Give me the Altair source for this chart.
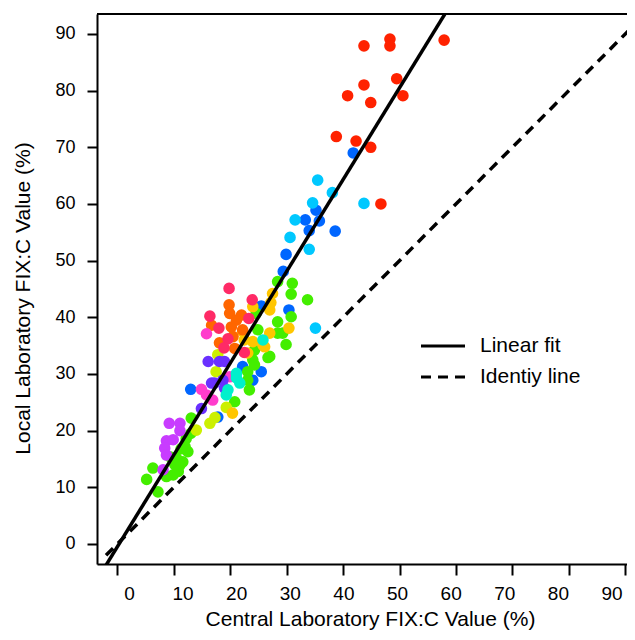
import altair as alt
import pandas as pd

# ---- data (Central %, Local %) per colour group ----
red_x = [57.9, 48.3, 48.3, 43.7, 49.5, 43.7, 50.6, 40.8, 44.9, 38.8, 42.3, 44.9, 46.7]
red_y = [88.9, 89.1, 87.9, 87.9, 82.1, 81.0, 79.1, 79.1, 77.9, 71.9, 71.1, 70.0, 60.0]

blue_x = [41.8, 35.2, 35.8, 33.3, 34.0, 38.6, 29.9, 29.4, 30.4, 25.5, 22.2, 25.5, 24.0, 13.0, 17.8]
blue_y = [69.0, 58.9, 57.0, 57.2, 55.3, 55.2, 51.1, 48.1, 41.3, 42.0, 31.3, 30.4, 28.9, 27.3, 22.4]

cyan_x = [35.5, 38.1, 43.7, 34.6, 31.5, 30.6, 34.0, 35.1]
cyan_y = [64.2, 62.0, 60.1, 60.2, 57.2, 54.1, 52.0, 38.1]

green_x = [28.4, 31.0, 30.8, 33.7, 30.8, 28.4, 28.4, 29.3, 24.6, 24.9, 29.9, 24.3, 26.7,
           24.0, 23.1, 24.3, 23.4, 23.1, 20.8, 27.0, 13.1, 12.2, 12.5, 11.6, 10.5, 9.3,
           6.3, 11.1, 9.9, 8.7, 10.8, 5.2, 7.2, 12.0, 13.0, 11.3, 10.2]
green_y = [46.3, 46.0, 44.1, 43.1, 40.1, 39.2, 37.2, 37.2, 40.7, 37.8, 35.2, 34.2, 32.9,
           32.5, 30.4, 31.6, 27.2, 28.9, 25.1, 33.1, 22.2, 18.6, 16.3, 14.5, 15.1, 15.4,
           13.4, 13.9, 12.2, 11.9, 12.8, 11.4, 9.2, 17.2, 19.5, 16.8, 14.0]

ygreen_x = [17.8, 17.5, 19.3, 16.4, 14.0, 17.3]
ygreen_y = [33.4, 30.4, 24.1, 21.3, 20.1, 22.3]

amber_x = [27.5, 27.2, 30.4, 27.0, 24.0, 27.0, 22.2, 24.0, 23.1, 25.8, 22.5, 26.1, 20.4]
amber_y = [44.2, 42.6, 38.1, 37.2, 41.9, 41.3, 37.5, 35.7, 33.7, 35.1, 36.0, 34.8, 23.1]

orange_x = [19.8, 19.9, 22.0, 21.1, 16.7, 20.2, 22.2, 20.5, 20.8, 18.1]
orange_y = [42.2, 40.7, 40.4, 39.5, 38.6, 38.3, 37.8, 36.6, 34.5, 35.5]

pinkred_x = [19.8, 23.9, 16.4, 23.3, 18.0, 19.6, 18.9, 22.5]
pinkred_y = [45.1, 43.1, 40.2, 39.8, 38.1, 36.2, 34.6, 33.8]

magenta_x = [15.8, 19.9, 14.9, 15.8, 16.9]
magenta_y = [37.1, 29.5, 27.3, 26.3, 25.4]

purple_x = [9.2, 11.1, 11.1, 8.7, 9.9, 8.4, 8.7, 8.1]
purple_y = [21.3, 21.3, 20.0, 18.2, 18.4, 16.9, 15.7, 13.1]

violet_x = [16.1, 18.1, 19.0, 17.2, 18.7, 19.0, 14.9, 16.7]
violet_y = [32.2, 32.2, 32.2, 28.4, 28.9, 27.5, 23.9, 28.4]

turq_x = [25.8, 21.1, 21.1, 21.7, 19.6, 19.3]
turq_y = [36.0, 29.3, 30.1, 28.4, 27.2, 26.3]

group_names = ["G1", "G2", "G3", "G4", "G5", "G6", "G7", "G8", "G9", "G10", "G11", "G12"]
group_colors = ["#ff2200", "#0066ff", "#00c8ff", "#44ee00", "#ccf000", "#ffc600",
                "#ff6600", "#ff2a66", "#ff3ccc", "#c83cff", "#6a30ff", "#00f0cc"]
group_data = [(red_x, red_y), (blue_x, blue_y), (cyan_x, cyan_y), (green_x, green_y),
              (ygreen_x, ygreen_y), (amber_x, amber_y), (orange_x, orange_y),
              (pinkred_x, pinkred_y), (magenta_x, magenta_y), (purple_x, purple_y),
              (violet_x, violet_y), (turq_x, turq_y)]

# linear fit
fit_slope = 1.62
fit_intercept = -0.5
fit_x = [-3.0, 60.0]
ident_x = [-2.0, 95.0]

legend_labels = ["Linear fit", "Identiy line"]

x_ticks = [0, 10, 20, 30, 40, 50, 60, 70, 80, 90]
y_ticks = [0, 10, 20, 30, 40, 50, 60, 70, 80, 90]
x_domain = [-3.6, 90.3]
y_domain = [-3.53, 93.52]

rows = []
for name, (xs, ys) in zip(group_names, group_data):
    for a, b in zip(xs, ys):
        rows.append({"central": a, "local": b, "group": name})
pts = pd.DataFrame(rows)

fit_df = pd.DataFrame({"central": fit_x,
                       "local": [fit_slope * v + fit_intercept for v in fit_x]})
ident_df = pd.DataFrame({"central": ident_x, "local": ident_x})

W, H = 530, 550
FONT = "Liberation Sans"

xscale = alt.Scale(domain=x_domain, nice=False, zero=False)
yscale = alt.Scale(domain=y_domain, nice=False, zero=False)

xaxis = alt.Axis(values=x_ticks, grid=False, domainColor="black", domainWidth=2,
                 tickColor="black", tickWidth=2, tickSize=11, labelFontSize=19,
                 labelColor="black", labelPadding=9, labelFont=FONT,
                 labelOffset=alt.ExprRef(expr="11.6 - 0.282 * datum.value"),
                 labelBound=False, labelFlush=False, labelOverlap=False,
                 title="Central Laboratory FIX:C Value (%)", titleFont=FONT,
                 titleFontSize=21, titleFontWeight="normal", titleColor="black",
                 titlePadding=5, titleX=273)
yaxis = alt.Axis(values=y_ticks, grid=False, domainColor="black", domainWidth=2,
                 tickColor="black", tickWidth=2, tickSize=10, labelFontSize=18,
                 labelColor="black", labelPadding=12, labelFont=FONT,
                 title="Local Laboratory FIX:C Value (%)", titleFont=FONT,
                 titleFontSize=21, titleFontWeight="normal", titleColor="black",
                 titlePadding=21, titleY=284)

points = alt.Chart(pts).mark_circle(size=135, opacity=1).encode(
    x=alt.X("central:Q", scale=xscale, axis=xaxis),
    y=alt.Y("local:Q", scale=yscale, axis=yaxis),
    color=alt.Color("group:N", scale=alt.Scale(domain=group_names, range=group_colors),
                    legend=None),
)

fit = alt.Chart(fit_df).mark_line(color="black", strokeWidth=3.5, clip=True).encode(
    x=alt.X("central:Q", scale=xscale), y=alt.Y("local:Q", scale=yscale))
ident = alt.Chart(ident_df).mark_line(color="black", strokeWidth=3.5,
                                      strokeDash=[10, 7], clip=True).encode(
    x=alt.X("central:Q", scale=xscale), y=alt.Y("local:Q", scale=yscale))

top_line = alt.Chart(pd.DataFrame({"a": [0]})).mark_rule(color="black", strokeWidth=2).encode(
    x=alt.value(0), x2=alt.value(W), y=alt.value(0))

leg_solid = alt.Chart(pd.DataFrame({"a": [0]})).mark_rule(color="black", strokeWidth=3).encode(
    x=alt.value(324), x2=alt.value(368), y=alt.value(332))
leg_dash = alt.Chart(pd.DataFrame({"a": [0]})).mark_rule(
    color="black", strokeWidth=3, strokeDash=[10, 7]).encode(
    x=alt.value(324), x2=alt.value(368), y=alt.value(363))
leg_text1 = alt.Chart(pd.DataFrame({"label": [legend_labels[0]]})).mark_text(
    align="left", baseline="middle", fontSize=21, font=FONT, color="black").encode(
    x=alt.value(383), y=alt.value(332), text="label:N")
leg_text2 = alt.Chart(pd.DataFrame({"label": [legend_labels[1]]})).mark_text(
    align="left", baseline="middle", fontSize=21, font=FONT, color="black").encode(
    x=alt.value(383), y=alt.value(363), text="label:N")

chart = alt.layer(points, fit, ident, top_line, leg_solid, leg_dash, leg_text1, leg_text2).properties(
    width=W, height=H,
    autosize=alt.AutoSizeParams(type="none"),
    padding={"left": 89, "top": 6, "right": 0, "bottom": 67},
).configure_view(stroke=None).configure(background="white")

chart.save("out.html", embed_options={"renderer": "svg", "actions": False})
